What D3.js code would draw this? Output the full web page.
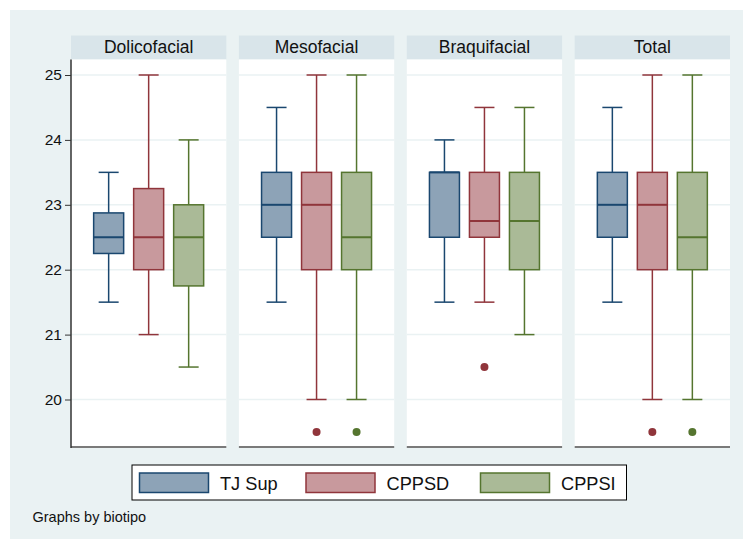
<!DOCTYPE html>
<html><head><meta charset="utf-8">
<script src="https://cdn.jsdelivr.net/npm/d3@7"></script>
<style>body{margin:0;background:#fff}svg{display:block;font-family:Arial,"Liberation Sans",sans-serif}</style>
</head><body><svg id="c" width="743" height="539"></svg>
<script>
const panels = ["Dolicofacial","Mesofacial","Braquifacial","Total"];
const series = ["TJ Sup","CPPSD","CPPSI"];
const yTicks = [20,21,22,23,24,25];
// [min, q1, median, q3, max] per panel, per series
const tjSup = [[21.5,22.25,22.5,22.875,23.5],[21.5,22.5,23,23.5,24.5],[21.5,22.5,23.5,23.5,24],[21.5,22.5,23,23.5,24.5]];
const cppsd = [[21,22,22.5,23.25,25],[20,22,23,23.5,25],[21.5,22.5,22.75,23.5,24.5],[20,22,23,23.5,25]];
const cppsi = [[20.5,21.75,22.5,23,24],[20,22,22.5,23.5,25],[21,22,22.75,23.5,24.5],[20,22,22.5,23.5,25]];
const outCppsd = [[],[19.5],[20.5],[19.5]];
const outCppsi = [[],[19.5],[],[19.5]];
const stats = [tjSup, cppsd, cppsi];
const outliers = [[[],[],[],[]], outCppsd, outCppsi];
const strokeCol = ["#1A476F","#90353B","#55752F"];
const fillCol = ["#8DA3B7","#C8999D","#AABA97"];

const svg = d3.select("#c");
svg.append("rect").attr("x",10).attr("y",10).attr("width",733).attr("height",529).attr("fill","#EAF2F3");

const px = d3.scaleBand().domain(panels).range([71,730]).paddingInner(0.075);
const y = d3.scaleLinear().domain([20,25]).range([399.5,75]);
const plotTop = 59.5, plotBot = 447, stripTop = 35.5;

panels.forEach((p,pi)=>{
  const x0 = px(p), w = px.bandwidth(), cx = x0 + w/2;
  const g = svg.append("g");
  g.append("rect").attr("x",x0).attr("y",stripTop).attr("width",w).attr("height",plotTop-stripTop).attr("fill","#D9E5EA");
  g.append("text").attr("x",cx).attr("y",stripTop+17).attr("text-anchor","middle").attr("font-size",17.5).attr("fill","#111").text(p);
  g.append("rect").attr("x",x0).attr("y",plotTop).attr("width",w).attr("height",plotBot-plotTop).attr("fill","#fff");
  yTicks.forEach(t=>g.append("line").attr("x1",x0).attr("x2",x0+w).attr("y1",y(t)).attr("y2",y(t)).attr("stroke","#EAF2F3").attr("stroke-width",1.5));
  g.append("line").attr("x1",x0).attr("x2",x0+w).attr("y1",plotBot).attr("y2",plotBot).attr("stroke","#7A7A7A").attr("stroke-width",2);
  const sx = d3.scalePoint().domain(series).range([cx-40,cx+40]);
  series.forEach((s,si)=>{
    const [mn,q1,md,q3,mx] = stats[si][pi];
    const c = sx(s), col = strokeCol[si], bw = 30, cw = 20;
    g.append("line").attr("x1",c).attr("x2",c).attr("y1",y(mx)).attr("y2",y(q3)).attr("stroke",col).attr("stroke-width",1.5);
    g.append("line").attr("x1",c).attr("x2",c).attr("y1",y(q1)).attr("y2",y(mn)).attr("stroke",col).attr("stroke-width",1.5);
    g.append("line").attr("x1",c-cw/2).attr("x2",c+cw/2).attr("y1",y(mx)).attr("y2",y(mx)).attr("stroke",col).attr("stroke-width",1.5);
    g.append("line").attr("x1",c-cw/2).attr("x2",c+cw/2).attr("y1",y(mn)).attr("y2",y(mn)).attr("stroke",col).attr("stroke-width",1.5);
    g.append("rect").attr("x",c-bw/2).attr("y",y(q3)).attr("width",bw).attr("height",y(q1)-y(q3)).attr("fill",fillCol[si]).attr("stroke",col).attr("stroke-width",1.5);
    g.append("line").attr("x1",c-bw/2).attr("x2",c+bw/2).attr("y1",y(md)).attr("y2",y(md)).attr("stroke",col).attr("stroke-width",2);
    outliers[si][pi].forEach(v=>g.append("circle").attr("cx",c).attr("cy",y(v)).attr("r",4).attr("fill",col));
  });
});

// y axis
const ax = svg.append("g").attr("transform",`translate(${px(panels[0])},0)`)
  .call(d3.axisLeft(y).tickValues(yTicks).tickSize(6).tickPadding(3).tickFormat(d3.format("d")));
ax.select(".domain").remove();
ax.selectAll(".tick line").attr("stroke","#333");
ax.selectAll(".tick text").attr("font-size",15.5).attr("fill","#111").attr("font-family","Arial,'Liberation Sans',sans-serif");
svg.append("line").attr("x1",px(panels[0])).attr("x2",px(panels[0])).attr("y1",plotTop).attr("y2",plotBot+1).attr("stroke","#333").attr("stroke-width",1.5);

// legend
const lg = svg.append("g");
lg.append("rect").attr("x",132).attr("y",465).attr("width",494.5).attr("height",35).attr("fill","#fff").attr("stroke","#000").attr("stroke-width",1);
const lgX = [139.5,306,480.5];
series.forEach((s,si)=>{
  lg.append("rect").attr("x",lgX[si]).attr("y",473).attr("width",69).attr("height",19.5).attr("fill",fillCol[si]).attr("stroke",strokeCol[si]).attr("stroke-width",1.5);
  lg.append("text").attr("x",lgX[si]+80.5).attr("y",489.5).attr("font-size",18.2).attr("fill","#111").text(s);
});
svg.append("text").attr("x",32.5).attr("y",522).attr("font-size",14.5).attr("fill","#111").text("Graphs by biotipo");
</script></body></html>
